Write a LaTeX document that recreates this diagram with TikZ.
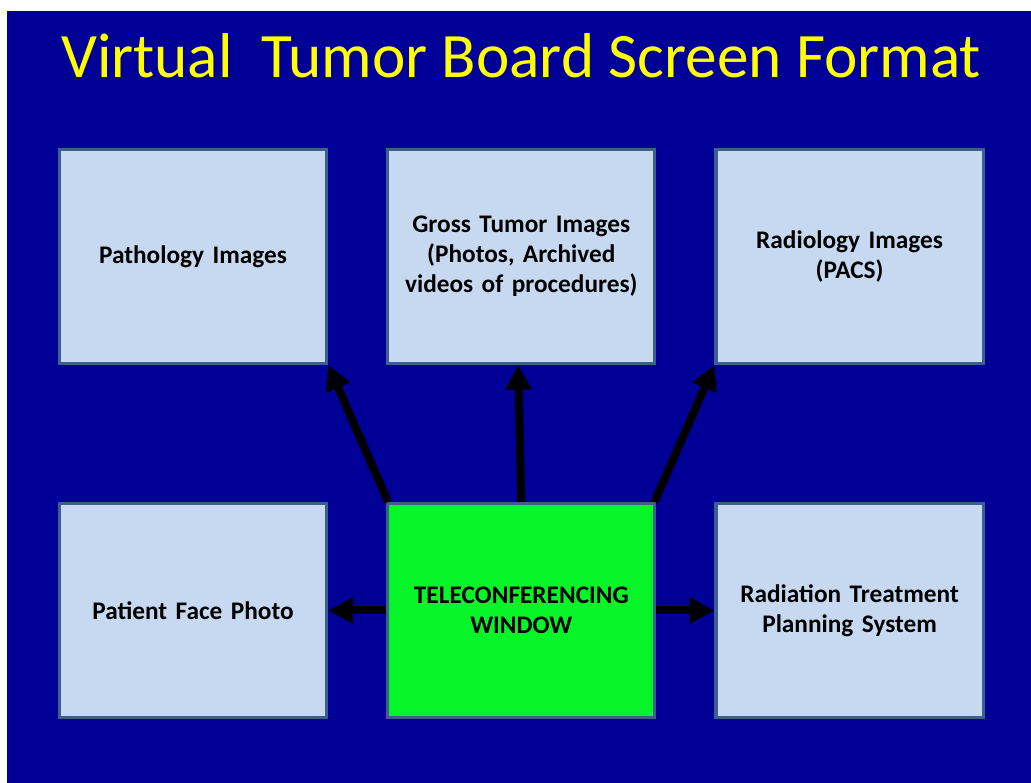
\documentclass[tikz,border=0pt]{standalone}
\usepackage{fontspec}
\setmainfont{Carlito}
\usetikzlibrary{arrows.meta, positioning, calc}
\definecolor{slidebg}{RGB}{0,0,150}
\definecolor{boxfill}{RGB}{198,217,241}
\definecolor{boxline}{RGB}{60,96,140}
\definecolor{telegreen}{RGB}{5,245,40}
\definecolor{titleyellow}{RGB}{255,255,0}
\tikzset{
  block/.style={rectangle, draw=boxline, line width=2.2pt,
                fill=boxfill, text width=6.4cm, align=center,
                minimum width=6.68cm, minimum height=5.35cm,
                font=\fontsize{18}{21.5}\selectfont\bfseries},
  arrow/.style={-{Triangle[length=0.62cm, width=0.62cm]}, line width=0.2cm, color=black},
}
\begin{document}
\begin{tikzpicture}[node distance=3.425cm and 1.45cm]
  \useasboundingbox (0,0) rectangle (25.775,-19.575);
  \fill[slidebg] (0.175,-0.275) rectangle (25.775,-19.575);

  \node[font=\fontsize{45}{50}\selectfont, text=titleyellow] (title) at (13.03,-1.4)
    {Virtual\ \ Tumor Board Screen Format};

  % Top row
  \node[block] (patho) at (4.825,-6.41) {Pathology Images};
  \node[block, right=of patho] (gross)
    {Gross Tumor Images\\(Photos, Archived\\videos of procedures)};
  \node[block, right=of gross] (radio) {Radiology Images\\(PACS)};

  % Bottom row
  \node[block, fill=telegreen, below=of gross] (tele) {TELECONFERENCING\\WINDOW};
  \node[block, left=of tele] (face) {Patient Face Photo};
  \node[block, right=of tele] (plan) {Radiation Treatment\\Planning System};

  % Connectors
  \draw[arrow] ($(tele.north west)+(0.05,0)$) -- (patho.south east);
  \draw[arrow] (tele.north) -- ($(gross.south)+(-0.08,0)$);
  \draw[arrow] ($(tele.north east)+(-0.05,0)$) -- (radio.south west);
  \draw[arrow] (tele.west) -- (face.east);
  \draw[arrow] (tele.east) -- (plan.west);
\end{tikzpicture}
\end{document}
